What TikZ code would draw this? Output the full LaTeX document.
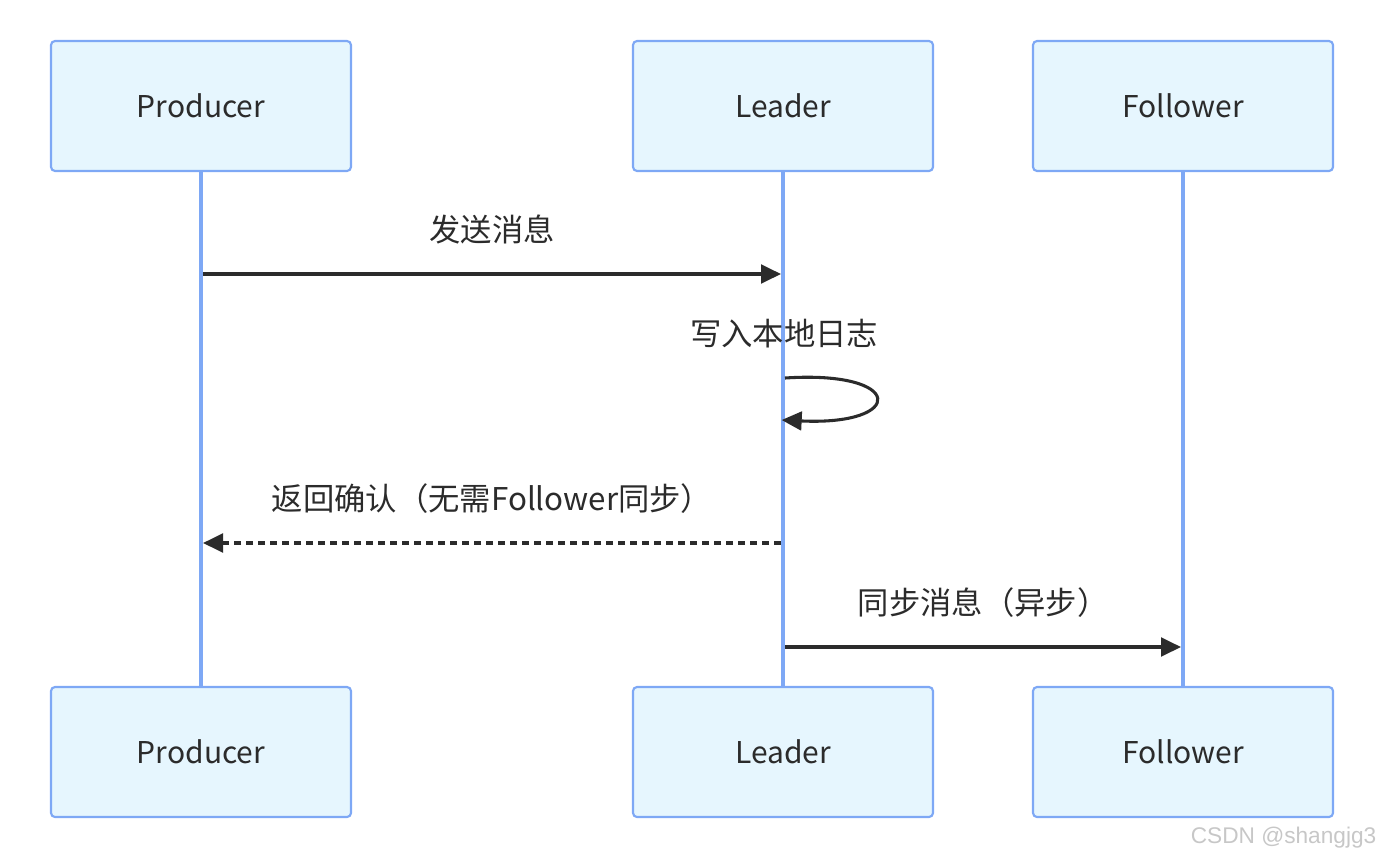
\documentclass[tikz,border=0pt]{standalone}
\usepackage{fontspec}
\setmainfont{Noto Sans CJK SC}
\newfontfamily\markfont{Liberation Sans}
\usetikzlibrary{positioning,arrows.meta}

\definecolor{actorfill}{HTML}{E6F6FE}
\definecolor{actorline}{HTML}{7EA8F5}
\definecolor{msgline}{HTML}{2B2B2B}

\begin{document}
\begin{tikzpicture}[x=0.75pt,y=-0.75pt,
    actor/.style={draw=actorline,line width=1.6pt,fill=actorfill,rounded corners=3pt,
        minimum width=225pt,minimum height=97.5pt,inner sep=0pt,
        font=\fontsize{22.5}{26}\selectfont,text=msgline},
    lifeline/.style={draw=actorline,line width=3pt},
    msg/.style={draw=msgline,line width=2.3pt,-{Triangle[length=15pt,width=14pt]}},
    reply/.style={msg,dash pattern=on 5pt off 4pt},
    msglabel/.style={font=\fontsize{23.5}{28}\selectfont,text=msgline}]
    \useasboundingbox (0,0) rectangle (1384,861);

    % actors, top row and bottom row
    \node[actor] (p_top) at (201,106) {Producer};
    \node[actor] (l_top) at (783,106) {Leader};
    \node[actor] (f_top) at (1183,106) {Follower};
    \node[actor] (p_bot) at (201,752) {Producer};
    \node[actor] (l_bot) at (783,752) {Leader};
    \node[actor] (f_bot) at (1183,752) {Follower};

    % lifelines
    \path[lifeline] (p_top.south) -- (p_bot.north)
                    (l_top.south) -- (l_bot.north)
                    (f_top.south) -- (f_bot.north);

    % message rows
    \coordinate (row_1) at (0,274);
    \coordinate (row_2a) at (0,378);
    \coordinate (row_2b) at (0,420);
    \coordinate (row_3) at (0,543);
    \coordinate (row_4) at (0,647);

    \draw[msg,shorten <=1.5pt,shorten >=1.5pt] (p_top |- row_1) -- (l_top |- row_1)
        node[msglabel,midway,above=18pt] (m_1) {发送消息};
    \draw[msg] ([xshift=1.5pt]l_top |- row_2a) .. controls (906,370) and (906,426) .. ([xshift=-1pt]l_top |- row_2b);
    \node[msglabel] (m_2) at (784,334) {写入本地日志};
    \draw[reply,shorten <=1.5pt,shorten >=1.5pt] (l_top |- row_3) -- (p_top |- row_3)
        node[msglabel,midway,above=18pt] (m_3) {返回确认（无需Follower同步）};
    \draw[msg,shorten <=1.5pt,shorten >=1.5pt] (l_top |- row_4) -- (f_top |- row_4)
        node[msglabel,midway,above=18pt] (m_4) {同步消息（异步）};

    % watermark
    \node[font=\markfont\fontsize{17}{20}\selectfont,text=black!22,anchor=east] (mark) at (1381,838) {CSDN @shangjg3};
\end{tikzpicture}
\end{document}
